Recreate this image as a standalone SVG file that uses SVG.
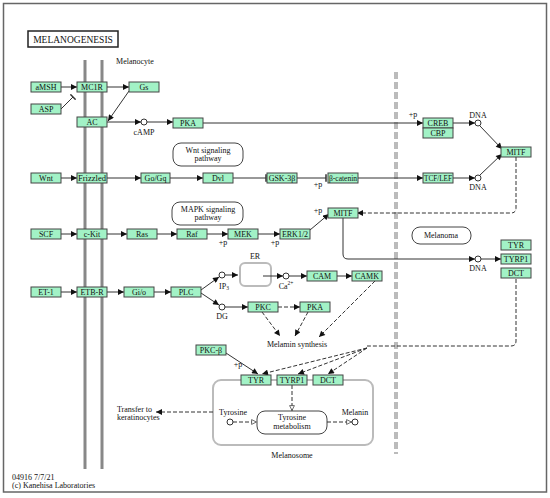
<svg xmlns="http://www.w3.org/2000/svg" width="550" height="498" viewBox="0 0 550 498">
<style>
text{font-family:"Liberation Serif","Times New Roman",serif;font-size:8px;fill:#111}
.n rect{fill:#a2f2c6;stroke:#444;stroke-width:1}
.n text{text-anchor:middle;font-size:8px}
.c{fill:none;stroke:#333;stroke-width:1}
.d{fill:none;stroke:#333;stroke-width:1;stroke-dasharray:4,2}
.lab{text-anchor:middle}
.cir{fill:#fff;stroke:#333;stroke-width:1}
.box{fill:#fff;stroke:#444;stroke-width:1}
.gbox{fill:none;stroke:#bbb;stroke-width:2}
</style>
<defs>
<marker id="a" viewBox="0 0 10 10" refX="10" refY="5" markerWidth="7" markerHeight="6" orient="auto" markerUnits="userSpaceOnUse"><path d="M0,0L10,5L0,10z" fill="#111"/></marker>
<marker id="o" viewBox="0 0 10 10" refX="10" refY="5" markerWidth="7" markerHeight="6" orient="auto" markerUnits="userSpaceOnUse"><path d="M1,1L9,5L1,9z" fill="#fff" stroke="#333" stroke-width="1.2"/></marker>
<marker id="b" viewBox="0 0 2 10" refX="1" refY="5" markerWidth="1.5" markerHeight="8" orient="auto" markerUnits="userSpaceOnUse"><path d="M1,0V10" stroke="#333" stroke-width="2"/></marker>
</defs>
<rect x="3.5" y="3.5" width="543" height="488.5" fill="#fff" stroke="#666" stroke-width="1.5"/>
<g id="title"><rect x="28" y="31" width="90" height="16" fill="#fff" stroke="#222" stroke-width="1.5"/><text x="73" y="42.5" class="lab" style="font-size:9.5px">MELANOGENESIS</text></g>
<text x="135" y="64" class="lab">Melanocyte</text>
<g id="membrane"><line x1="85" y1="60" x2="85" y2="469" stroke="#888" stroke-width="3"/><line x1="102" y1="60" x2="102" y2="469" stroke="#888" stroke-width="3"/></g>
<line x1="396" y1="72" x2="396" y2="454" stroke="#bbb" stroke-width="4" stroke-dasharray="7,3"/>
<g id="pathways">
<g id="wntpath"><rect x="173" y="143" width="70" height="23" rx="8" class="box"/><text x="208" y="153" class="lab">Wnt signaling</text><text x="208" y="161" class="lab">pathway</text></g>
<g id="mapkpath"><rect x="172" y="202" width="71" height="23" rx="8" class="box"/><text x="208" y="212" class="lab">MAPK signaling</text><text x="208" y="220" class="lab">pathway</text></g>
<g id="melanoma"><rect x="412" y="227" width="59" height="17" rx="8" class="box"/><text x="441" y="238" class="lab">Melanoma</text></g>
<g id="tyrmet"><rect x="257" y="411" width="70" height="23" rx="8" class="box"/><text x="292" y="420" class="lab">Tyrosine</text><text x="292" y="429" class="lab">metabolism</text></g>
<g id="er"><rect x="240" y="263" width="31" height="23" rx="5" class="gbox"/><text x="255" y="259" class="lab">ER</text></g>
<g id="melanosome"><rect x="213" y="380" width="160" height="65" rx="8" class="gbox"/><text x="292" y="458" class="lab">Melanosome</text></g>
</g>
<g id="connectors">
<path class="c" d="M61,87H77" marker-end="url(#a)"/>
<path class="c" d="M61,109L73,97" marker-end="url(#b)"/>
<path class="c" d="M107,87H129" marker-end="url(#a)"/>
<path class="c" d="M129,91L108,121" marker-end="url(#a)"/>
<path class="c" d="M107,122H141" marker-end="url(#a)"/>
<path class="c" d="M147,122H173" marker-end="url(#a)"/>
<path class="c" d="M203,123H423" marker-end="url(#a)"/>
<path class="c" d="M453,123H475" marker-end="url(#a)"/>
<path class="c" d="M480,126L502,149" marker-end="url(#a)"/>
<path class="c" d="M61,178H77" marker-end="url(#a)"/>
<path class="c" d="M107,178H141" marker-end="url(#a)"/>
<path class="c" d="M170,178H203" marker-end="url(#a)"/>
<path class="c" d="M233,178H266" marker-end="url(#b)"/>
<path class="c" d="M297,178H326" marker-end="url(#b)"/>
<path class="c" d="M358,178H423" marker-end="url(#a)"/>
<path class="c" d="M453,178H475" marker-end="url(#a)"/>
<path class="c" d="M480,175L502,154" marker-end="url(#a)"/>
<path class="d" d="M516,157V208Q516,213 511,213H357" marker-end="url(#a)"/>
<path class="c" d="M61,234H77" marker-end="url(#a)"/>
<path class="c" d="M107,234H127" marker-end="url(#a)"/>
<path class="c" d="M157,234H177" marker-end="url(#a)"/>
<path class="c" d="M207,234H228" marker-end="url(#a)"/>
<path class="c" d="M258,234H280" marker-end="url(#a)"/>
<path class="c" d="M310,230L329,214" marker-end="url(#a)"/>
<path class="c" d="M343,218V254Q343,259 348,259H475" marker-end="url(#a)"/>
<path class="c" d="M481,259H501" marker-end="url(#a)"/>
<path class="d" d="M516,279V341Q516,346 511,346H367"/>
<path class="d" d="M367,348L262,374" marker-end="url(#a)"/>
<path class="d" d="M367,348L298,374" marker-end="url(#a)"/>
<path class="d" d="M367,348L328,374" marker-end="url(#a)"/>
<path class="c" d="M61,292H77" marker-end="url(#a)"/>
<path class="c" d="M107,292H124" marker-end="url(#a)"/>
<path class="c" d="M154,292H171" marker-end="url(#a)"/>
<path class="c" d="M201,290L219,277" marker-end="url(#a)"/>
<path class="c" d="M201,293L219,305" marker-end="url(#a)"/>
<path class="c" d="M225,275H238" marker-end="url(#a)"/>
<path class="c" d="M263,276H283" marker-end="url(#a)"/>
<path class="c" d="M289,276H307" marker-end="url(#a)"/>
<path class="c" d="M337,276H352" marker-end="url(#a)"/>
<path class="c" d="M225,307H248" marker-end="url(#a)"/>
<path class="d" d="M278,307H300" marker-end="url(#a)"/>
<path class="d" d="M262,312L280,336" marker-end="url(#a)"/>
<path class="d" d="M308,312L295,336" marker-end="url(#a)"/>
<path class="d" d="M375,281L319,337" marker-end="url(#a)"/>
<path class="c" d="M226,353L258,374" marker-end="url(#a)"/>
<path class="d" d="M292,385V411" marker-end="url(#o)"/>
<path class="d" d="M233,422H257" marker-end="url(#o)"/>
<path class="d" d="M327,422H352" marker-end="url(#o)"/>
<path class="d" d="M213,412H156" marker-end="url(#a)"/>
</g>
<g id="compounds">
<circle cx="144" cy="122" r="3" class="cir"/><text x="144" y="135" class="lab">cAMP</text>
<circle cx="478" cy="123" r="3" class="cir"/><text x="478" y="118" class="lab">DNA</text>
<circle cx="478" cy="178" r="3" class="cir"/><text x="478" y="190" class="lab">DNA</text>
<circle cx="478" cy="259" r="3" class="cir"/><text x="478" y="271" class="lab">DNA</text>
<circle cx="222" cy="275" r="3" class="cir"/><text x="224" y="289" class="lab">IP<tspan font-size="5.5" dy="1">3</tspan></text>
<circle cx="222" cy="307" r="3" class="cir"/><text x="222" y="319" class="lab">DG</text>
<circle cx="286" cy="276" r="3" class="cir"/><text x="286" y="289" class="lab">Ca<tspan font-size="5.5" dy="-4">2+</tspan></text>
<circle cx="230" cy="422" r="3" class="cir"/><text x="233" y="415" class="lab">Tyrosine</text>
<circle cx="355" cy="422" r="3" class="cir"/><text x="355" y="415" class="lab">Melanin</text>
</g>
<g id="labels">
<text x="413" y="117" class="lab">+p</text>
<text x="318" y="187" class="lab">+p</text>
<text x="223" y="245" class="lab">+p</text>
<text x="275" y="245" class="lab">+p</text>
<text x="318" y="213" class="lab">+p</text>
<text x="238" y="367" class="lab">+p</text>
<text x="297" y="347" class="lab">Melamin synthesis</text>
<text x="117" y="412">Transfer to</text>
<text x="117" y="420">keratinocytes</text>
<text x="12" y="480">04916 7/7/21</text>
<text x="12" y="488">(c) Kanehisa Laboratories</text>
</g>
<g id="n-amsh" class="n"><rect x="31" y="82" width="30" height="10"/><text x="46" y="90">aMSH</text></g>
<g id="n-mc1r" class="n"><rect x="77" y="82" width="30" height="10"/><text x="92" y="90">MC1R</text></g>
<g id="n-gs" class="n"><rect x="129" y="82" width="30" height="10"/><text x="144" y="90">Gs</text></g>
<g id="n-asp" class="n"><rect x="31" y="104" width="30" height="10"/><text x="46" y="112">ASP</text></g>
<g id="n-ac" class="n"><rect x="77" y="117" width="30" height="10"/><text x="92" y="125">AC</text></g>
<g id="n-pka1" class="n"><rect x="173" y="118" width="30" height="10"/><text x="188" y="126">PKA</text></g>
<g id="n-creb" class="n"><rect x="423" y="118" width="30" height="10"/><text x="438" y="126">CREB</text></g>
<g id="n-cbp" class="n"><rect x="423" y="128" width="30" height="10"/><text x="438" y="136">CBP</text></g>
<g id="n-mitf1" class="n"><rect x="501" y="147" width="30" height="10"/><text x="516" y="155">MITF</text></g>
<g id="n-wnt" class="n"><rect x="31" y="173" width="30" height="10"/><text x="46" y="181">Wnt</text></g>
<g id="n-fzd" class="n"><rect x="77" y="173" width="30" height="10"/><text x="92" y="181" textLength="28" lengthAdjust="spacingAndGlyphs">Frizzled</text></g>
<g id="n-gogq" class="n"><rect x="141" y="173" width="29" height="10"/><text x="155.5" y="181">Go/Gq</text></g>
<g id="n-dvl" class="n"><rect x="203" y="173" width="30" height="10"/><text x="218" y="181">Dvl</text></g>
<g id="n-gsk" class="n"><rect x="267" y="173" width="30" height="10"/><text x="282" y="181">GSK-3β</text></g>
<g id="n-bcat" class="n"><rect x="328" y="173" width="30" height="10"/><text x="343" y="181" textLength="28" lengthAdjust="spacingAndGlyphs">β-catenin</text></g>
<g id="n-tcf" class="n"><rect x="423" y="173" width="30" height="10"/><text x="438" y="181" textLength="28" lengthAdjust="spacingAndGlyphs">TCF/LEF</text></g>
<g id="n-scf" class="n"><rect x="31" y="229" width="30" height="10"/><text x="46" y="237">SCF</text></g>
<g id="n-ckit" class="n"><rect x="77" y="229" width="30" height="10"/><text x="92" y="237">c-Kit</text></g>
<g id="n-ras" class="n"><rect x="127" y="229" width="30" height="10"/><text x="142" y="237">Ras</text></g>
<g id="n-raf" class="n"><rect x="177" y="229" width="30" height="10"/><text x="192" y="237">Raf</text></g>
<g id="n-mek" class="n"><rect x="228" y="229" width="30" height="10"/><text x="243" y="237">MEK</text></g>
<g id="n-erk" class="n"><rect x="280" y="229" width="30" height="10"/><text x="295" y="237">ERK1/2</text></g>
<g id="n-mitf2" class="n"><rect x="328" y="208" width="30" height="10"/><text x="343" y="216">MITF</text></g>
<g id="n-tyr1" class="n"><rect x="501" y="240" width="30" height="10"/><text x="516" y="248">TYR</text></g>
<g id="n-tyrp1a" class="n"><rect x="501" y="254" width="30" height="10"/><text x="516" y="262">TYRP1</text></g>
<g id="n-dct1" class="n"><rect x="501" y="268" width="30" height="10"/><text x="516" y="276">DCT</text></g>
<g id="n-et1" class="n"><rect x="31" y="287" width="30" height="10"/><text x="46" y="295">ET-1</text></g>
<g id="n-etbr" class="n"><rect x="77" y="287" width="30" height="10"/><text x="92" y="295">ETB-R</text></g>
<g id="n-gio" class="n"><rect x="124" y="287" width="30" height="10"/><text x="139" y="295">Gi/o</text></g>
<g id="n-plc" class="n"><rect x="171" y="287" width="30" height="10"/><text x="186" y="295">PLC</text></g>
<g id="n-cam" class="n"><rect x="307" y="271" width="30" height="10"/><text x="322" y="279">CAM</text></g>
<g id="n-camk" class="n"><rect x="352" y="271" width="30" height="10"/><text x="367" y="279">CAMK</text></g>
<g id="n-pkc" class="n"><rect x="248" y="302" width="30" height="10"/><text x="263" y="310">PKC</text></g>
<g id="n-pka2" class="n"><rect x="300" y="302" width="30" height="10"/><text x="315" y="310">PKA</text></g>
<g id="n-pkcb" class="n"><rect x="196" y="345" width="30" height="10"/><text x="211" y="353">PKC-β</text></g>
<g id="n-tyr2" class="n"><rect x="241" y="375" width="30" height="10"/><text x="256" y="383">TYR</text></g>
<g id="n-tyrp1b" class="n"><rect x="277" y="375" width="30" height="10"/><text x="292" y="383">TYRP1</text></g>
<g id="n-dct2" class="n"><rect x="313" y="375" width="30" height="10"/><text x="328" y="383">DCT</text></g>
</svg>
